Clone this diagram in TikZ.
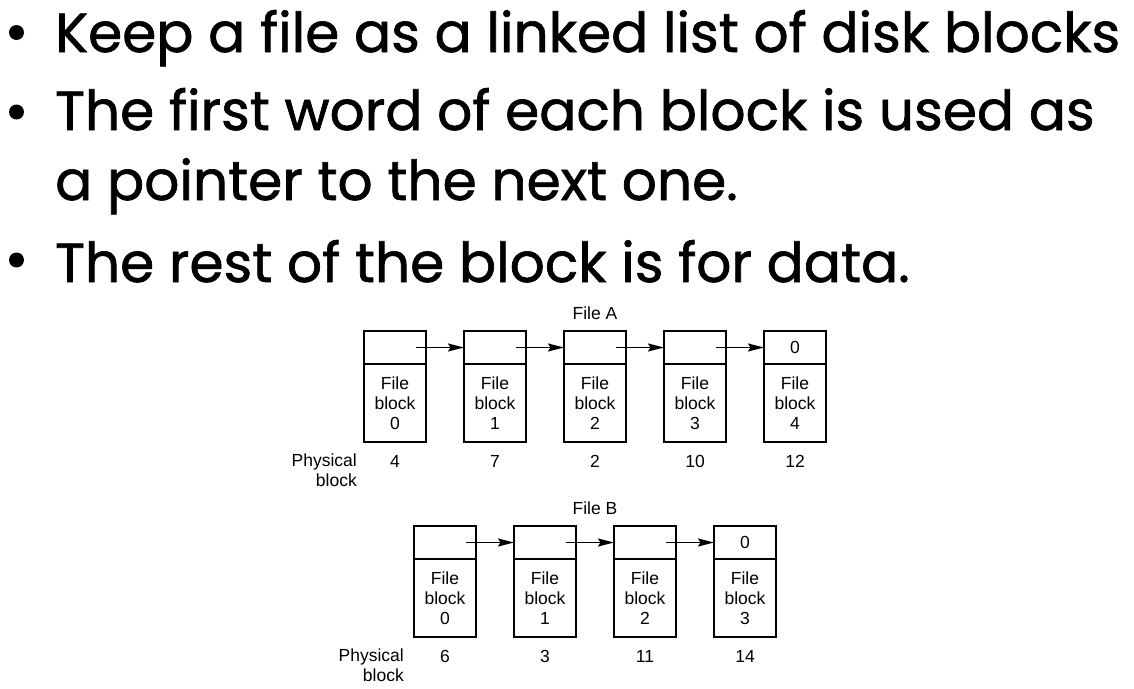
\documentclass[tikz,border=0pt]{standalone}
\usepackage{fontspec}
\setmainfont{Liberation Sans}
\newfontfamily\slidefont{Poppins}[FakeBold=1.2]
\usetikzlibrary{arrows.meta}
\begin{document}
\begin{tikzpicture}[x=1pt,y=-1pt,
  slideline/.style={anchor=base west, inner sep=0pt, font=\slidefont\fontsize{55}{60}\selectfont},
  dot/.style={circle, fill=black, inner sep=0pt, minimum size=15pt},
  ptrcell/.style={draw, line width=2pt, minimum width=62pt, minimum height=33pt, inner sep=0pt, outer sep=0pt,
    font=\fontsize{17.5}{20}\selectfont},
  datacell/.style={draw, line width=2pt, minimum width=62pt, minimum height=78pt, inner sep=0pt, outer sep=0pt,
    align=center, font=\fontsize{17.5}{20}\selectfont},
  lbl/.style={inner sep=0pt, font=\fontsize{17.5}{20}\selectfont},
  link/.style={line width=1.8pt, -{Stealth[length=16pt,width=8pt,inset=2.5pt]}}]
\useasboundingbox (0,0) rectangle (1134,688);

% bullet list
\node[dot] (d1) at (16.5,32.5) {};
\node[dot] (d2) at (16.5,112) {};
\node[dot] (d3) at (16.5,260) {};
\node[slideline] (t1) at (55,52) {Keep a file as a linked list of disk blocks};
\node[slideline] (t2) at (55,130) {The first word of each block is used as};
\node[slideline] (t3) at (55,200) {a pointer to the next one.};
\node[slideline] (t4) at (55,282) {The rest of the block is for data.};

% file A
\node[lbl, anchor=base] (fa) at (595,319) {File A};
\foreach \i/\p in {0/4,1/7,2/2,3/10,4/12} {
  \node[ptrcell] (ap\i) at (395+100*\i,347.5) {};
  \node[datacell] (ad\i) at (395+100*\i,403) {File\\block\\\i};
  \node[lbl, anchor=base] (an\i) at (395+100*\i,467) {\p};
}
\node at (ap4) [lbl] {0};
\foreach \i/\j in {0/1,1/2,2/3,3/4}
  \draw[link] ([xshift=21pt]ap\i.center) -- (ap\j.west);
\node[lbl, anchor=base east, align=right] (aphys) at (357,486.5) {Physical\\block};

% file B
\node[lbl, anchor=base] (fb) at (595,514.5) {File B};
\foreach \i/\p in {0/6,1/3,2/11,3/14} {
  \node[ptrcell] (bp\i) at (445+100*\i,542.5) {};
  \node[datacell] (bd\i) at (445+100*\i,598) {File\\block\\\i};
  \node[lbl, anchor=base] (bn\i) at (445+100*\i,662) {\p};
}
\node at (bp3) [lbl] {0};
\foreach \i/\j in {0/1,1/2,2/3}
  \draw[link] ([xshift=21pt]bp\i.center) -- (bp\j.west);
\node[lbl, anchor=base east, align=right] (bphys) at (404,681.5) {Physical\\block};
\end{tikzpicture}
\end{document}
